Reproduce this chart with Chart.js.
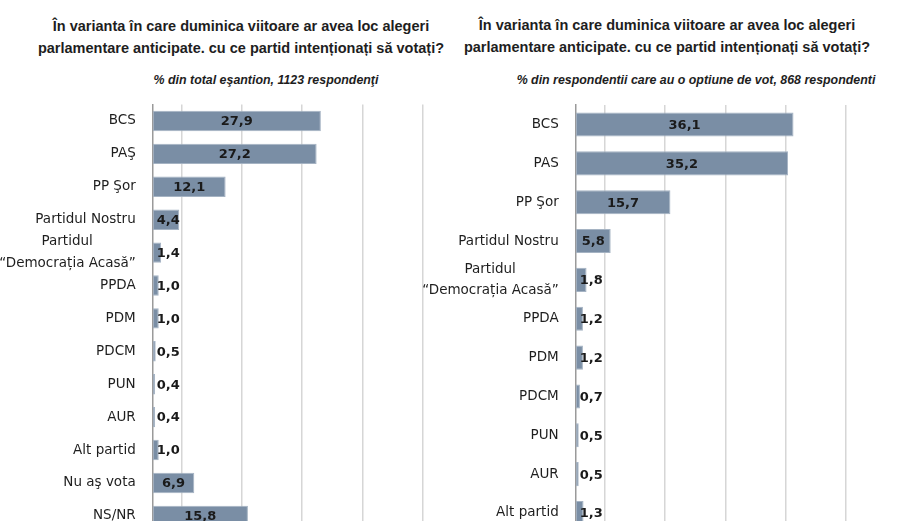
<!DOCTYPE html>
<html>
<head>
<meta charset="utf-8">
<script src="https://cdn.jsdelivr.net/npm/chart.js@4.4.1/dist/chart.umd.min.js"></script>
<style>
  body { margin: 0; width: 922px; height: 521px; overflow: hidden; background: #fff; position: relative; }
  .title { position: absolute; font: bold 14.5px "Liberation Sans", Arial, sans-serif; color: #1e1e1e;
           text-align: center; line-height: 21.5px; white-space: nowrap; }
  .sub { position: absolute; font: italic bold 12.4px "Liberation Sans", Arial, sans-serif; color: #1e1e1e;
         text-align: center; line-height: 16px; white-space: nowrap; }
  canvas { position: absolute; top: 0; }
</style>
</head>
<body>
<div class="title" style="left:0;width:482px;top:16px">În varianta în care duminica viitoare ar avea loc alegeri<br>parlamentare anticipate. cu ce partid intenționați să votați?</div>
<div class="sub" style="left:66px;width:400px;top:71.5px">% din total eşantion, 1123 respondenţi</div>
<div class="title" style="left:412px;width:510px;top:15px">În varianta în care duminica viitoare ar avea loc alegeri<br>parlamentare anticipate. cu ce partid intenționați să votați?</div>
<div class="sub" style="left:496px;width:400px;top:72px">% din respondentii care au o optiune de vot, 868 respondenti</div>

<canvas id="leftChart" width="461" height="540" style="left:0"></canvas>
<canvas id="rightChart" width="522" height="540" style="left:400px"></canvas>

<script>
// left panel: whole sample
const leftLabels = ["BCS", "PAŞ", "PP Şor", "Partidul Nostru", ["Partidul", "“Democrația Acasă”"],
  "PPDA", "PDM", "PDCM", "PUN", "AUR", "Alt partid", "Nu aş vota", "NS/NR"];
const leftValues = [27.9, 27.2, 12.1, 4.4, 1.4, 1.0, 1.0, 0.5, 0.4, 0.4, 1.0, 6.9, 15.8];

// right panel: only respondents with a vote option
const rightLabels = ["BCS", "PAS", "PP Şor", "Partidul Nostru", ["Partidul", "“Democrația Acasă”"],
  "PPDA", "PDM", "PDCM", "PUN", "AUR", "Alt partid"];
const rightValues = [36.1, 35.2, 15.7, 5.8, 1.8, 1.2, 1.2, 0.7, 0.5, 0.5, 1.3];

// vertical gridline positions (value axis)
const gridTicks = [4.8, 14.8, 24.8, 34.8, 44.8];
const axisMax = 48;

const labelFont = '13.5px "DejaVu Sans", sans-serif';
const valueFont = 'bold 13px "DejaVu Sans", sans-serif';
const barColor = "#7a8ea5";

// centre the short first line of a two-line label over the second one
const measureCtx = document.createElement("canvas").getContext("2d");
measureCtx.font = labelFont;
function centerLines(label) {
  if (!Array.isArray(label)) return label;
  const widest = Math.max(...label.map(l => measureCtx.measureText(l).width));
  const sp = measureCtx.measureText(" ").width;
  return label.map(l => {
    const n = Math.round((widest - measureCtx.measureText(l).width) / 2 / sp);
    return l + " ".repeat(n);
  });
}

const valueLabels = {
  id: "valueLabels",
  afterDatasetsDraw(chart) {
    const ctx = chart.ctx;
    const meta = chart.getDatasetMeta(0);
    const data = chart.data.datasets[0].data;
    ctx.save();
    ctx.font = valueFont;
    ctx.fillStyle = "#1a1a1a";
    ctx.textAlign = "center";
    ctx.textBaseline = "middle";
    meta.data.forEach((bar, i) => {
      const text = data[i].toFixed(1).replace(".", ",");
      const w = ctx.measureText(text).width;
      const x = Math.max((bar.base + bar.x) / 2, bar.base + w / 2 + 4);
      ctx.fillText(text, x, bar.y + 1);
    });
    ctx.restore();
  }
};

function makeChart(id, labels, values, pad, axisWidth) {
  return new Chart(document.getElementById(id), {
    type: "bar",
    data: {
      labels: labels.map(centerLines),
      datasets: [{
        data: values,
        backgroundColor: barColor,
        borderColor: "#a5b3c3",
        borderWidth: 1,
        borderSkipped: false,
        categoryPercentage: 1,
        barPercentage: 0.62
      }]
    },
    options: {
      indexAxis: "y",
      responsive: false,
      animation: false,
      layout: { padding: pad },
      plugins: { legend: { display: false }, tooltip: { enabled: false } },
      scales: {
        x: {
          min: 0,
          max: axisMax,
          afterBuildTicks: s => { s.ticks = gridTicks.map(v => ({ value: v })); },
          afterFit: s => { s.height = 0; s.paddingLeft = 0; s.paddingRight = 0; },
          ticks: { display: false },
          grid: { color: "#d6d6d6", lineWidth: 1.5, drawTicks: false },
          border: { display: false }
        },
        y: {
          afterFit: s => { s.width = axisWidth; s.paddingTop = 0; s.paddingBottom = 0; },
          ticks: {
            autoSkip: false,
            color: "#1e1e1e",
            font: { family: "DejaVu Sans", size: 13.5, lineHeight: 1.58 },
            padding: 17
          },
          grid: { display: false, drawTicks: false },
          border: { color: "#9a9a9a", width: 1.5 }
        }
      }
    },
    plugins: [valueLabels]
  });
}

makeChart("leftChart", leftLabels, leftValues, { top: 104.5, bottom: 7.7, right: 19, left: 0 }, 152.7);
makeChart("rightChart", rightLabels, rightValues, { top: 105.1, bottom: 7.6, right: 56.7, left: 0 }, 175.7);
</script>
</body>
</html>
